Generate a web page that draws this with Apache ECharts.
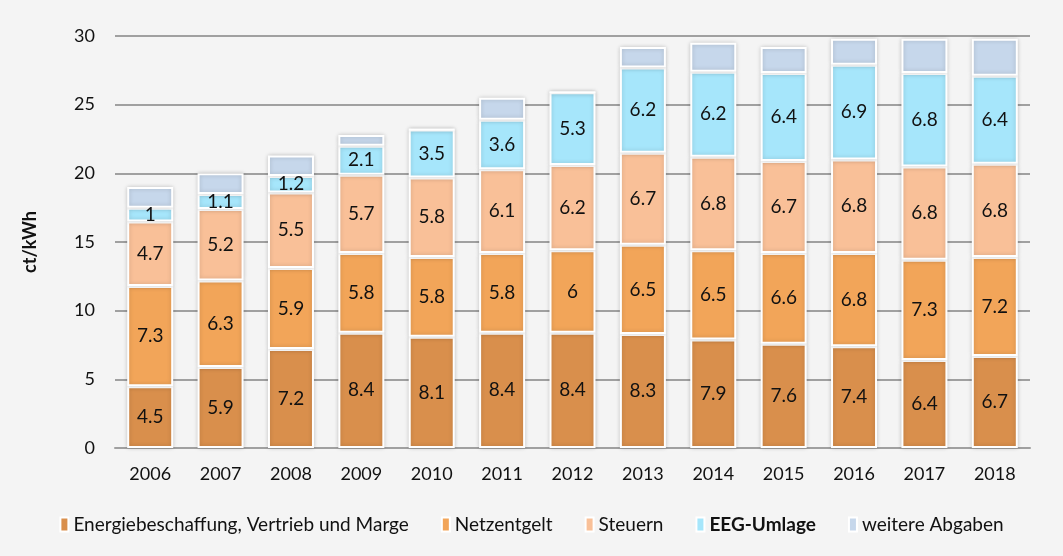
<!DOCTYPE html>
<html>
<head>
<meta charset="utf-8">
<script src="https://cdn.jsdelivr.net/npm/echarts@6/dist/echarts.min.js"></script>
<style>
  html, body { margin: 0; padding: 0; background: #f4f4f4; }
  #chart { width: 1063px; height: 556px; }
</style>
</head>
<body>
<div id="chart"></div>
<script>
const years = ['2006', '2007', '2008', '2009', '2010', '2011', '2012', '2013', '2014', '2015', '2016', '2017', '2018'];
const energie = [4.5, 5.9, 7.2, 8.4, 8.1, 8.4, 8.4, 8.3, 7.9, 7.6, 7.4, 6.4, 6.7];
const netz = [7.3, 6.3, 5.9, 5.8, 5.8, 5.8, 6, 6.5, 6.5, 6.6, 6.8, 7.3, 7.2];
const steuern = [4.7, 5.2, 5.5, 5.7, 5.8, 6.1, 6.2, 6.7, 6.8, 6.7, 6.8, 6.8, 6.8];
const eeg = [1, 1.1, 1.2, 2.1, 3.5, 3.6, 5.3, 6.2, 6.2, 6.4, 6.9, 6.8, 6.4];
const weitere = [1.5, 1.5, 1.5, 0.8, 0, 1.6, 0, 1.5, 2.1, 1.9, 1.9, 2.5, 2.7];

const font = 'Lato, "Open Sans", sans-serif';

function bar(name, data, color, showLabel) {
    return {
        name: name,
        type: 'bar',
        stack: 'total',
        barWidth: 46,
        data: data,
        itemStyle: {
            color: color,
            borderColor: '#ffffff',
            borderWidth: 2,
            shadowBlur: 4,
            shadowColor: 'rgba(0,0,0,0.18)'
        },
        label: {
            show: showLabel,
            position: 'inside',
            color: '#111',
            fontFamily: font,
            fontSize: 19
        }
    };
}

const myChart = echarts.init(document.getElementById('chart'));
const option = {
    backgroundColor: '#f4f4f4',
    animation: false,
    grid: { left: 115, right: 33, top: 36, bottom: 108 },
    legend: {
        bottom: 17,
        left: 'center',
        itemWidth: 8,
        itemHeight: 14,
        itemGap: 32,
        icon: 'rect',
        textStyle: {
            fontFamily: font,
            fontSize: 19,
            color: '#111',
            rich: { b: { fontWeight: 'bold', fontFamily: font, fontSize: 19, color: '#111' } }
        },
        formatter: function (name) {
            return name === 'EEG-Umlage' ? '{b|' + name + '}' : name;
        }
    },
    xAxis: {
        type: 'category',
        data: years,
        axisTick: { show: false },
        axisLine: { lineStyle: { color: '#a0a0a0', width: 2 } },
        axisLabel: { fontFamily: font, fontSize: 18, color: '#111', margin: 17 }
    },
    yAxis: {
        type: 'value',
        min: 0,
        max: 30,
        interval: 5,
        name: 'ct/kWh',
        nameLocation: 'middle',
        nameGap: 76,
        nameTextStyle: { fontFamily: font, fontSize: 18, fontWeight: 'bold', color: '#111' },
        axisLabel: { fontFamily: font, fontSize: 18, color: '#111', margin: 20 },
        splitLine: { lineStyle: { color: '#a0a0a0', width: 2 } }
    },
    series: [
        bar('Energiebeschaffung, Vertrieb und Marge', energie, '#d98f4c', true),
        bar('Netzentgelt', netz, '#f2a559', true),
        bar('Steuern', steuern, '#f9c098', true),
        bar('EEG-Umlage', eeg, '#a6e6fb', true),
        bar('weitere Abgaben', weitere, '#c6d7eb', false)
    ]
};
myChart.setOption(option);
</script>
</body>
</html>
